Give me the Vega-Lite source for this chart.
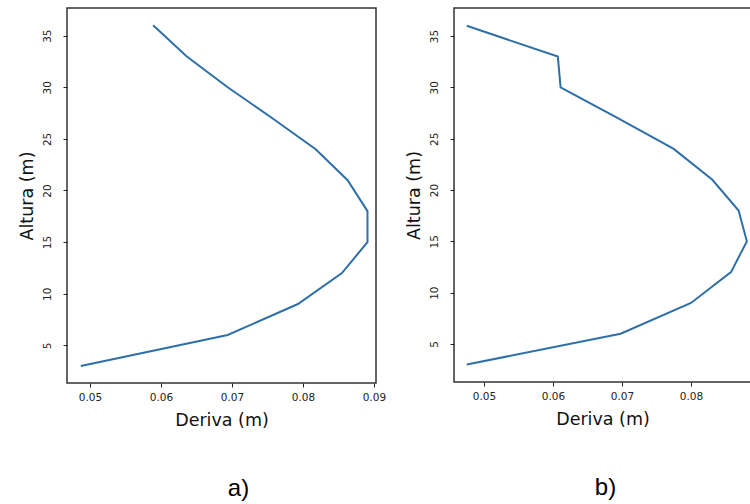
{
  "$schema": "https://vega.github.io/schema/vega-lite/v6.json",
  "padding": {"left": 17, "top": 7, "right": 0, "bottom": 0},
  "background": "white",
  "datasets": {
    "a": [
      {"deriva": 0.0487, "altura": 3},
      {"deriva": 0.0694, "altura": 6},
      {"deriva": 0.0793, "altura": 9},
      {"deriva": 0.0855, "altura": 12},
      {"deriva": 0.0891, "altura": 15},
      {"deriva": 0.0891, "altura": 18},
      {"deriva": 0.0863, "altura": 21},
      {"deriva": 0.0818, "altura": 24},
      {"deriva": 0.0757, "altura": 27},
      {"deriva": 0.0694, "altura": 30},
      {"deriva": 0.0636, "altura": 33},
      {"deriva": 0.0589, "altura": 36}
    ],
    "b": [
      {"deriva": 0.0475, "altura": 3},
      {"deriva": 0.0698, "altura": 6},
      {"deriva": 0.0800, "altura": 9},
      {"deriva": 0.0858, "altura": 12},
      {"deriva": 0.0881, "altura": 15},
      {"deriva": 0.0869, "altura": 18},
      {"deriva": 0.0831, "altura": 21},
      {"deriva": 0.0775, "altura": 24},
      {"deriva": 0.0694, "altura": 27},
      {"deriva": 0.0611, "altura": 30},
      {"deriva": 0.0607, "altura": 33},
      {"deriva": 0.0475, "altura": 36}
    ]
  },
  "hconcat": [
    {
      "width": 309,
      "height": 375,
      "data": {"name": "a"},
      "title": {"text": "a)", "orient": "bottom", "anchor": "middle", "offset": 48, "dx": 17},
      "mark": {"type": "line", "color": "#2f6fa8", "strokeWidth": 2},
      "encoding": {
        "x": {"field": "deriva", "type": "quantitative", "title": "Deriva (m)",
              "scale": {"domain": [0.04676, 0.0903], "zero": false, "nice": false},
              "axis": {"values": [0.05, 0.06, 0.07, 0.08, 0.09], "format": ".2f"}},
        "y": {"field": "altura", "type": "quantitative", "title": "Altura (m)",
              "scale": {"domain": [1.35, 37.68], "zero": false, "nice": false},
              "axis": {"values": [5, 10, 15, 20, 25, 30, 35], "labelAngle": -90}},
        "order": {"field": "altura", "type": "quantitative"}
      }
    },
    {
      "width": 297,
      "height": 374,
      "data": {"name": "b"},
      "title": {"text": "b)", "orient": "bottom", "anchor": "middle", "offset": 48, "dx": 3},
      "mark": {"type": "line", "color": "#2f6fa8", "strokeWidth": 2},
      "encoding": {
        "x": {"field": "deriva", "type": "quantitative", "title": "Deriva (m)",
              "scale": {"domain": [0.04565, 0.0887], "zero": false, "nice": false},
              "axis": {"values": [0.05, 0.06, 0.07, 0.08], "format": ".2f"}},
        "y": {"field": "altura", "type": "quantitative", "title": "Altura (m)",
              "scale": {"domain": [1.3, 37.73], "zero": false, "nice": false},
              "axis": {"values": [5, 10, 15, 20, 25, 30, 35], "labelAngle": -90}},
        "order": {"field": "altura", "type": "quantitative"}
      }
    }
  ],
  "spacing": 78,
  "bounds": "flush",
  "config": {
    "view": {"stroke": "#333333", "strokeWidth": 1.5},
    "axis": {
      "grid": false,
      "domain": false,
      "tickColor": "#222222",
      "tickSize": 4,
      "labelFont": "DejaVu Sans",
      "labelFontSize": 10.5,
      "labelColor": "#222222",
      "titleFont": "DejaVu Sans",
      "titleFontSize": 17.5,
      "titleFontWeight": "normal",
      "titleColor": "#111111"
    },
    "axisY": {"labelPadding": 11, "titlePadding": 6, "labelAlign": "center", "labelBaseline": "bottom"},
    "axisX": {"labelPadding": 5, "titlePadding": 9},
    "title": {"font": "Liberation Sans", "fontSize": 24, "fontWeight": "normal", "color": "#000000"}
  }
}
